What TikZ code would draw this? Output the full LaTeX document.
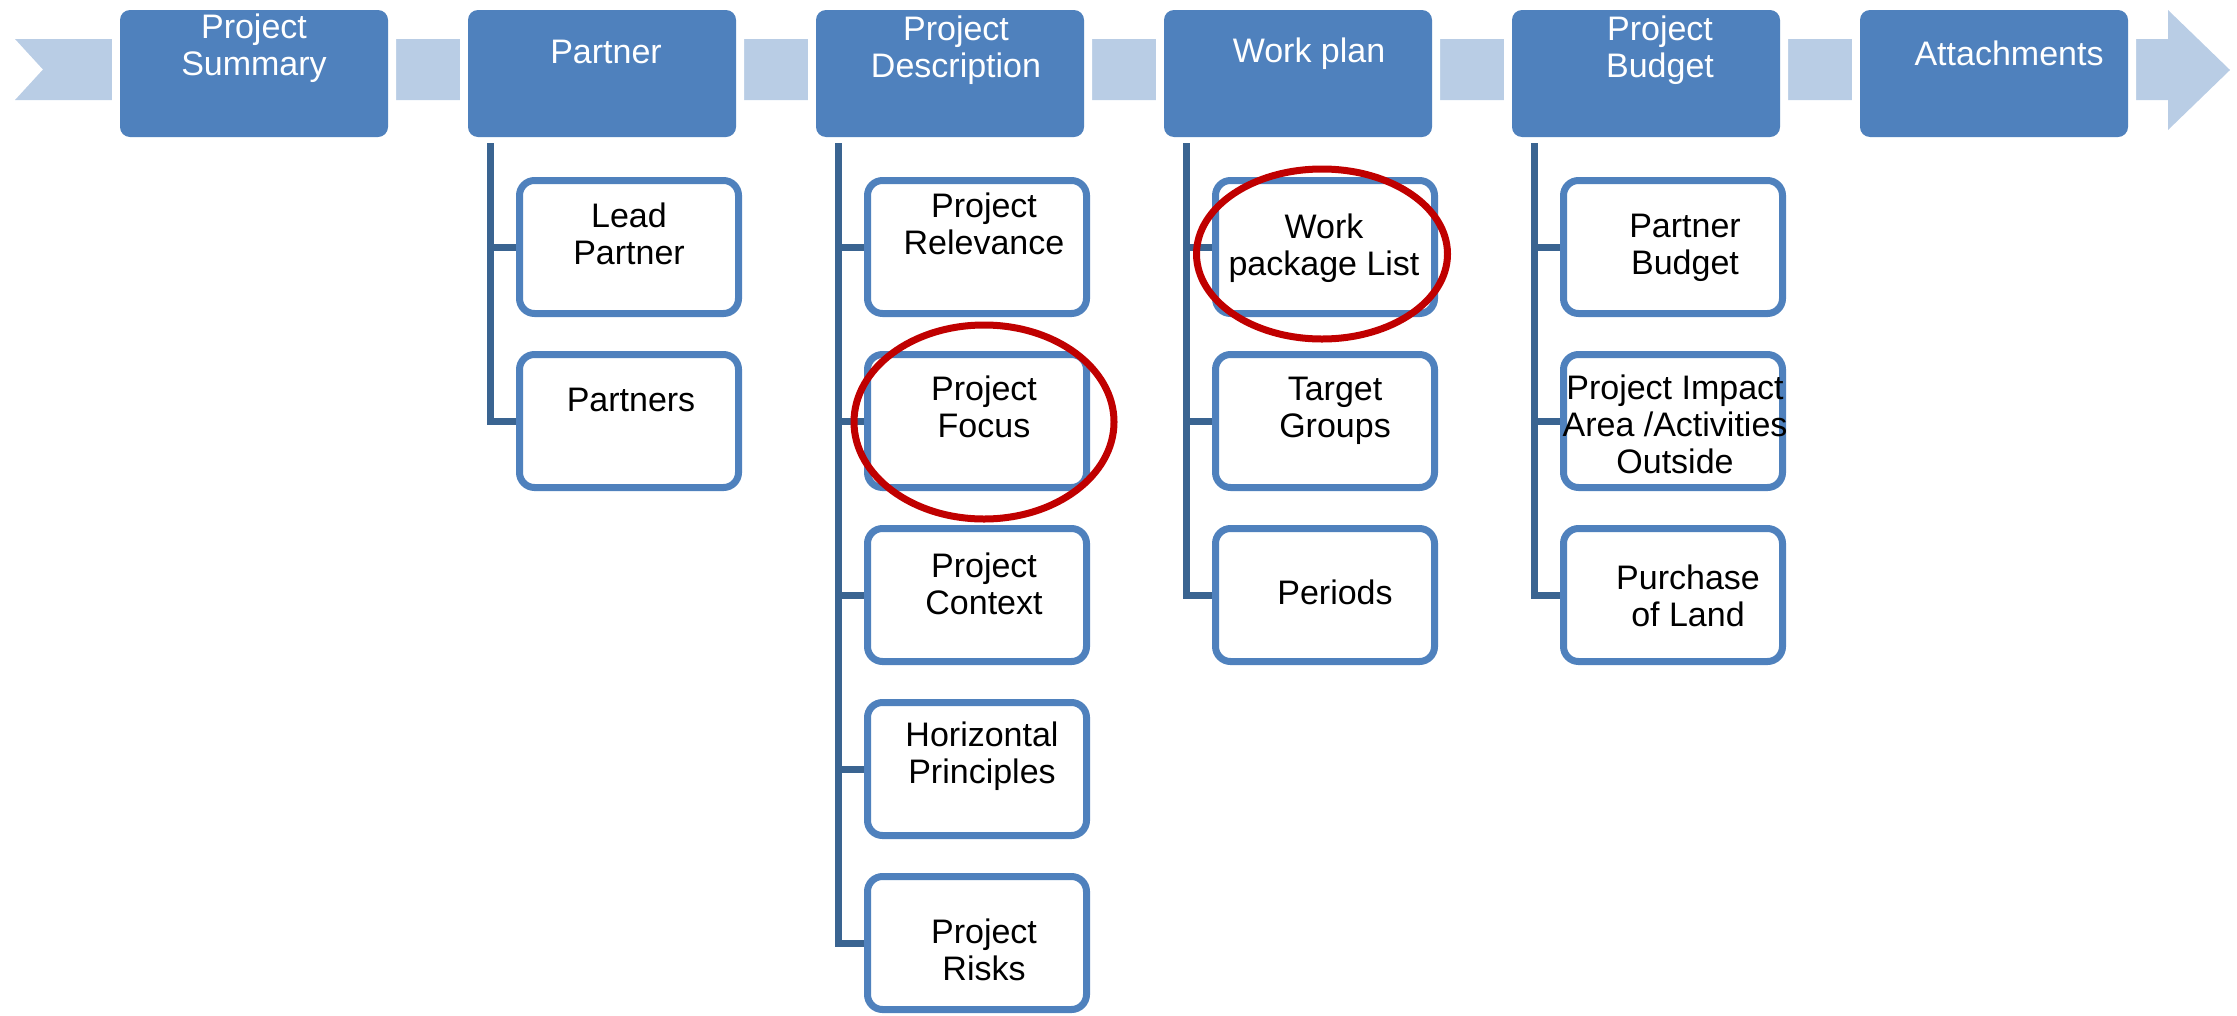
\documentclass[tikz,border=0pt]{standalone}
\usepackage{fontspec}
\setmainfont{Liberation Sans}
\usetikzlibrary{calc,shapes.geometric}
\definecolor{pblue}{HTML}{4F81BD}
\definecolor{bandc}{HTML}{B9CDE5}
\definecolor{connc}{HTML}{3A6491}
\definecolor{ringc}{HTML}{C00000}
\begin{document}
\begin{tikzpicture}[x=1pt,y=-1pt,
  parentbox/.style={rectangle, rounded corners=10pt, fill=pblue, minimum width=268pt, minimum height=127pt, inner sep=0pt, preaction={draw=white, line width=16pt}},
  childbox/.style={rectangle, rounded corners=15pt, draw=pblue, line width=7pt, fill=white, minimum width=219pt, minimum height=133pt, inner sep=0pt},
  ptext/.style={text=white, font=\fontsize{34}{37}\selectfont, align=center, inner sep=0pt},
  ctext/.style={text=black, font=\fontsize{34}{37}\selectfont, align=center, inner sep=0pt},
  conn/.style={draw=connc, line width=7pt},
  ring/.style={draw=ringc, line width=7pt, ellipse, inner sep=0pt}]
\useasboundingbox (0,0) rectangle (2237,1015);
% band with chevron tail and arrow head
\fill[bandc] (15,39) -- (2168,39) -- (2168,10) -- (2230,70) -- (2168,130) -- (2168,100) -- (15,100) -- (43,69.5) -- cycle;
% top row
\node[parentbox] (ps) at (254,73.5) {};
\node[parentbox] (pa) at (602,73.5) {};
\node[parentbox] (pd) at (950,73.5) {};
\node[parentbox] (wp) at (1298,73.5) {};
\node[parentbox] (pb) at (1646,73.5) {};
\node[parentbox] (at) at (1994,73.5) {};
\node[ptext] (pst) at ($(ps)+(0,-25)$) {Project\\Summary};
\node[ptext] (pat) at ($(pa)+(4,-22)$) {Partner};
\node[ptext] (pdt) at ($(pd)+(6,-23)$) {Project\\Description};
\node[ptext] (wpt) at ($(wp)+(11,-20)$) {Work plan};
\node[ptext] (pbt) at ($(pb)+(14,-23)$) {Project\\Budget};
\node[ptext] (att) at ($(at)+(15,-20)$) {Attachments};
% children: Partner
\node[childbox] (lp) at (629,247) {};
\node[childbox] (pr) at (629,421) {};
% children: Project Description
\node[childbox] (rel) at (977,247) {};
\node[childbox] (foc) at (977,421) {};
\node[childbox] (ctx) at (977,595) {};
\node[childbox] (hor) at (977,769) {};
\node[childbox] (rsk) at (977,943) {};
% children: Work plan
\node[childbox] (wpl) at (1325,247) {};
\node[childbox] (tgr) at (1325,421) {};
\node[childbox] (per) at (1325,595) {};
% children: Project Budget
\node[childbox] (pbu) at (1673,247) {};
\node[childbox] (pia) at (1673,421) {};
\node[childbox] (pol) at (1673,595) {};
% child texts
\node[ctext] (lpt) at ($(lp)+(0,-13)$) {Lead\\Partner};
\node[ctext] (prt) at ($(pr)+(2,-21)$) {Partners};
\node[ctext] (relt) at ($(rel)+(7,-23)$) {Project\\Relevance};
\node[ctext] (foct) at ($(foc)+(7,-14)$) {Project\\Focus};
\node[ctext] (ctxt) at ($(ctx)+(7,-11)$) {Project\\Context};
\node[ctext] (hort) at ($(hor)+(5,-13)$) {Horizontal\\Principles};
\node[ctext] (rskt) at ($(rsk)+(7,7)$) {Project\\Risks};
\node[ctext] (wplt) at ($(wpl)+(-1,1)$) {Work\\package List};
\node[ctext] (tgrt) at ($(tgr)+(10,-10)$) {Target\\Groups};
\node[ctext] (pert) at ($(per)+(10,-3)$) {Periods};
\node[ctext] (pbut) at ($(pbu)+(12,1)$) {Partner\\Budget};
\node[ctext] (piat) at ($(pia)+(2,3)$) {Project Impact\\Area /Activities\\Outside};
\node[ctext] (polt) at ($(pol)+(15,1)$) {Purchase\\of Land};
% connectors
\coordinate (ca) at ([xshift=23pt,yshift=-6pt]pa.south west);
\coordinate (cd) at ([xshift=23pt,yshift=-6pt]pd.south west);
\coordinate (cw) at ([xshift=23pt,yshift=-6pt]wp.south west);
\coordinate (cb) at ([xshift=23pt,yshift=-6pt]pb.south west);
\foreach \c in {lp,pr} \draw[conn] (ca) |- (\c.west);
\foreach \c in {rel,foc,ctx,hor,rsk} \draw[conn] (cd) |- (\c.west);
\foreach \c in {wpl,tgr,per} \draw[conn] (cw) |- (\c.west);
\foreach \c in {pbu,pia,pol} \draw[conn] (cb) |- (\c.west);
% red rings
\node[ring, minimum width=260pt, minimum height=194pt] (ring1) at (984,422) {};
\node[ring, minimum width=251pt, minimum height=170pt] (ring2) at (1322,254) {};
\end{tikzpicture}
\end{document}
